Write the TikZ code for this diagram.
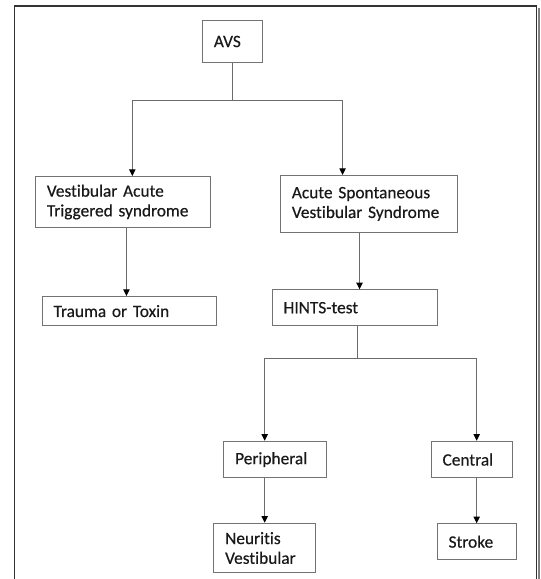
\documentclass[tikz,border=0pt]{standalone}
\usepackage{fontspec}
\setmainfont{Carlito}[Ligatures=NoCommon, FakeBold=0.4]
\usepackage{tikz}
\usetikzlibrary{arrows.meta}

\definecolor{boxline}{gray}{0.45}
\definecolor{linkgray}{gray}{0.42}
\definecolor{framegray}{gray}{0.2}

\begin{document}
\begin{tikzpicture}[x=0.75pt, y=-0.75pt,
        box/.style={draw=boxline, line width=0.8pt, anchor=north west, inner xsep=8.5pt, inner ysep=0pt,
            align=left, font=\fontsize{13}{14.8}\selectfont, text=black!90},
        link/.style={draw=linkgray, line width=0.8pt},
        arr/.style={link, -{Triangle[length=5pt, width=4.8pt, color=black]}}]
        \useasboundingbox[fill=white] (0, 0) rectangle (541, 579);
        \draw[framegray, line width=0.9pt] (14.5, 579) -- (14.5, 6) -- (536.5, 6) -- (536.5, 579);
        \draw[gray, line width=2.2pt] (539, 8) -- (539, 579);

        \node[box, text width=28pt, minimum height=31.5pt] (avs) at (202, 20) {AVS\\[3pt]};
        \node[box, text width=114.2pt, minimum height=38.2pt] (vat) at (35, 176) {Vestibular Acute\\Triggered syndrome};
        \node[box, text width=115.5pt, minimum height=42.5pt] (asvs) at (280, 175) {Acute Spontaneous\\Vestibular Syndrome};
        \node[box, text width=113.7pt, minimum height=21.8pt] (tt) at (41.7, 296) {Trauma or Toxin};
        \node[box, text width=106.7pt, minimum height=26.8pt] (hints) at (271.7, 289.3) {HINTS-test};
        \node[box, text width=59.8pt, minimum height=27.5pt] (per) at (223.3, 440.7) {Peripheral};
        \node[box, text width=43.7pt, minimum height=27.5pt] (cen) at (430.7, 440.7) {Central};
        \node[box, text width=59.3pt, minimum height=37.2pt] (neu) at (213.3, 522.7) {Neuritis\\Vestibular};
        \node[box, text width=42.2pt, minimum height=26.8pt] (stroke) at (436.7, 523.3) {Stroke};

        \coordinate (avsfork) at ([yshift=-28pt]avs.south);
        \coordinate (hintsfork) at ([xshift=2.1pt, yshift=-24.2pt]hints.south);

        \draw[link] (avs.south) -- (avsfork);
        \draw[arr] (avsfork) -| ([xshift=7pt]vat.north);
        \draw[arr] (avsfork) -| ([xshift=-19.7pt]asvs.north);
        \draw[arr] ([xshift=2.6pt]vat.south) -- ([xshift=2.6pt]vat.south |- tt.north);
        \draw[arr] ([xshift=-7pt]asvs.south) -- ([xshift=-7pt]asvs.south |- hints.north);
        \draw[link] ([xshift=2.1pt]hints.south) -- (hintsfork);
        \draw[arr] (hintsfork) -| (per.north -| neu.north);
        \draw[arr] (hintsfork) -| (cen.north -| stroke.north);
        \draw[arr] (per.south -| neu.north) -- (neu.north);
        \draw[arr] (cen.south -| stroke.north) -- (stroke.north);
    \end{tikzpicture}
\end{document}
